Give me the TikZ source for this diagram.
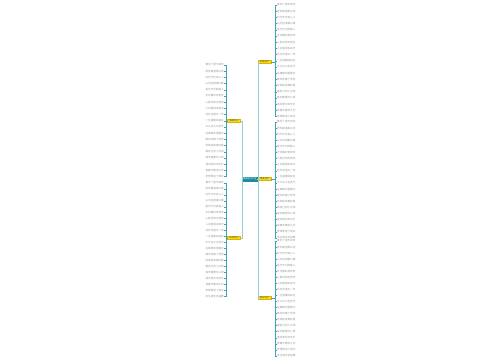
\documentclass[tikz,border=0pt]{standalone}
\usepackage{fontspec}
\newfontfamily\cjk{Noto Sans CJK SC}
\definecolor{trunk}{HTML}{3FA3B3}
\definecolor{link}{HTML}{8FD0DA}
\definecolor{cfill}{HTML}{1B8C9E}
\definecolor{yfill}{HTML}{F8DD1C}
\definecolor{yline}{HTML}{E2B300}
\definecolor{leaftext}{HTML}{9A9A9A}
\begin{document}
\begin{tikzpicture}[x=1pt,y=-1pt,
  leaf/.style={inner sep=0pt, font=\cjk\fontsize{2.6}{3}\selectfont, text=leaftext},
  centre/.style={fill=cfill, draw=cfill, inner sep=0pt, minimum width=14pt, minimum height=3.4pt, text=white, font=\cjk\fontsize{2.2}{2.4}\selectfont},
  branch/.style={fill=yfill, draw=yline, line width=0.2pt, inner sep=0pt, minimum width=13pt, minimum height=3pt, text=black!70, font=\cjk\fontsize{2.2}{2.4}\selectfont},
  trunkline/.style={draw=trunk, line width=0.6pt},
  linkline/.style={draw=link, line width=0.5pt}]
\fill[white] (0,0) rectangle (500,360);
\useasboundingbox (0,0) rectangle (500,360);

\node[centre] (c) at (250,179) {唯美句子大全};
\node[branch] (r1) at (264.5,62) {经典句子};
\node[branch] (r2) at (264.5,179) {温柔句子};
\node[branch] (r3) at (264.5,298) {励志句子};
\node[branch] (l1) at (234,121) {唯美句子};
\node[branch] (l2) at (234,238) {伤感句子};

\draw[linkline] (c.east) -- ++(0.8,0) coordinate (cr) |- (r1.west);
\draw[linkline] (cr) |- (r3.west);
\draw[linkline] (c.east) -- (r2.west);
\draw[linkline] (c.west) -- ++(-1,0) coordinate (cl) |- (l1.east);
\draw[linkline] (cl) |- (l2.east);

\def\phrases{春风十里不如你,愿你被温柔以待,时光不负有心人,山河远阔烟火暖,星光不问赶路人,岁月静好现世安,心若向阳无畏伤,人间值得未来可,花开花落又一年,一生温暖纯良在,平凡日子也发光,往事随风慢慢忘,晚风吹散了忧愁,你笑起来真好看,做自己的小太阳,每天都要开心呀,清风明月本无价,青春不散场之约,梦想照进了现实,余生请多多指教}

% right top
\foreach \t [count=\i] in \phrases {
  \ifnum\i<20
  \node[leaf, anchor=west] (rt\i) at (277,{5+(\i-1)*6.2}) {\t};
  \draw[trunkline] (r1.east) -- ++(4,0) |- (rt\i.west);
  \fi
}
% right middle
\foreach \t [count=\i] in \phrases {
  \node[leaf, anchor=west] (rm\i) at (277,{122+(\i-1)*6.1}) {\t};
  \draw[trunkline] (r2.east) -- ++(4,0) |- (rm\i.west);
}
% right bottom
\foreach \t [count=\i] in \phrases {
  \node[leaf, anchor=west] (rb\i) at (277,{241+(\i-1)*6.05}) {\t};
  \draw[trunkline] (r3.east) -- ++(4,0) |- (rb\i.west);
}
% left top
\foreach \t [count=\i] in \phrases {
  \ifnum\i<20
  \node[leaf, anchor=east] (lt\i) at (224,{65+(\i-1)*6.2}) {\t};
  \draw[trunkline] (l1.west) -- ++(-1.5,0) |- (lt\i.east);
  \fi
}
% left bottom
\foreach \t [count=\i] in \phrases {
  \node[leaf, anchor=east] (lb\i) at (224,{183+(\i-1)*5.95}) {\t};
  \draw[trunkline] (l2.west) -- ++(-1.5,0) |- (lb\i.east);
}
\end{tikzpicture}
\end{document}
